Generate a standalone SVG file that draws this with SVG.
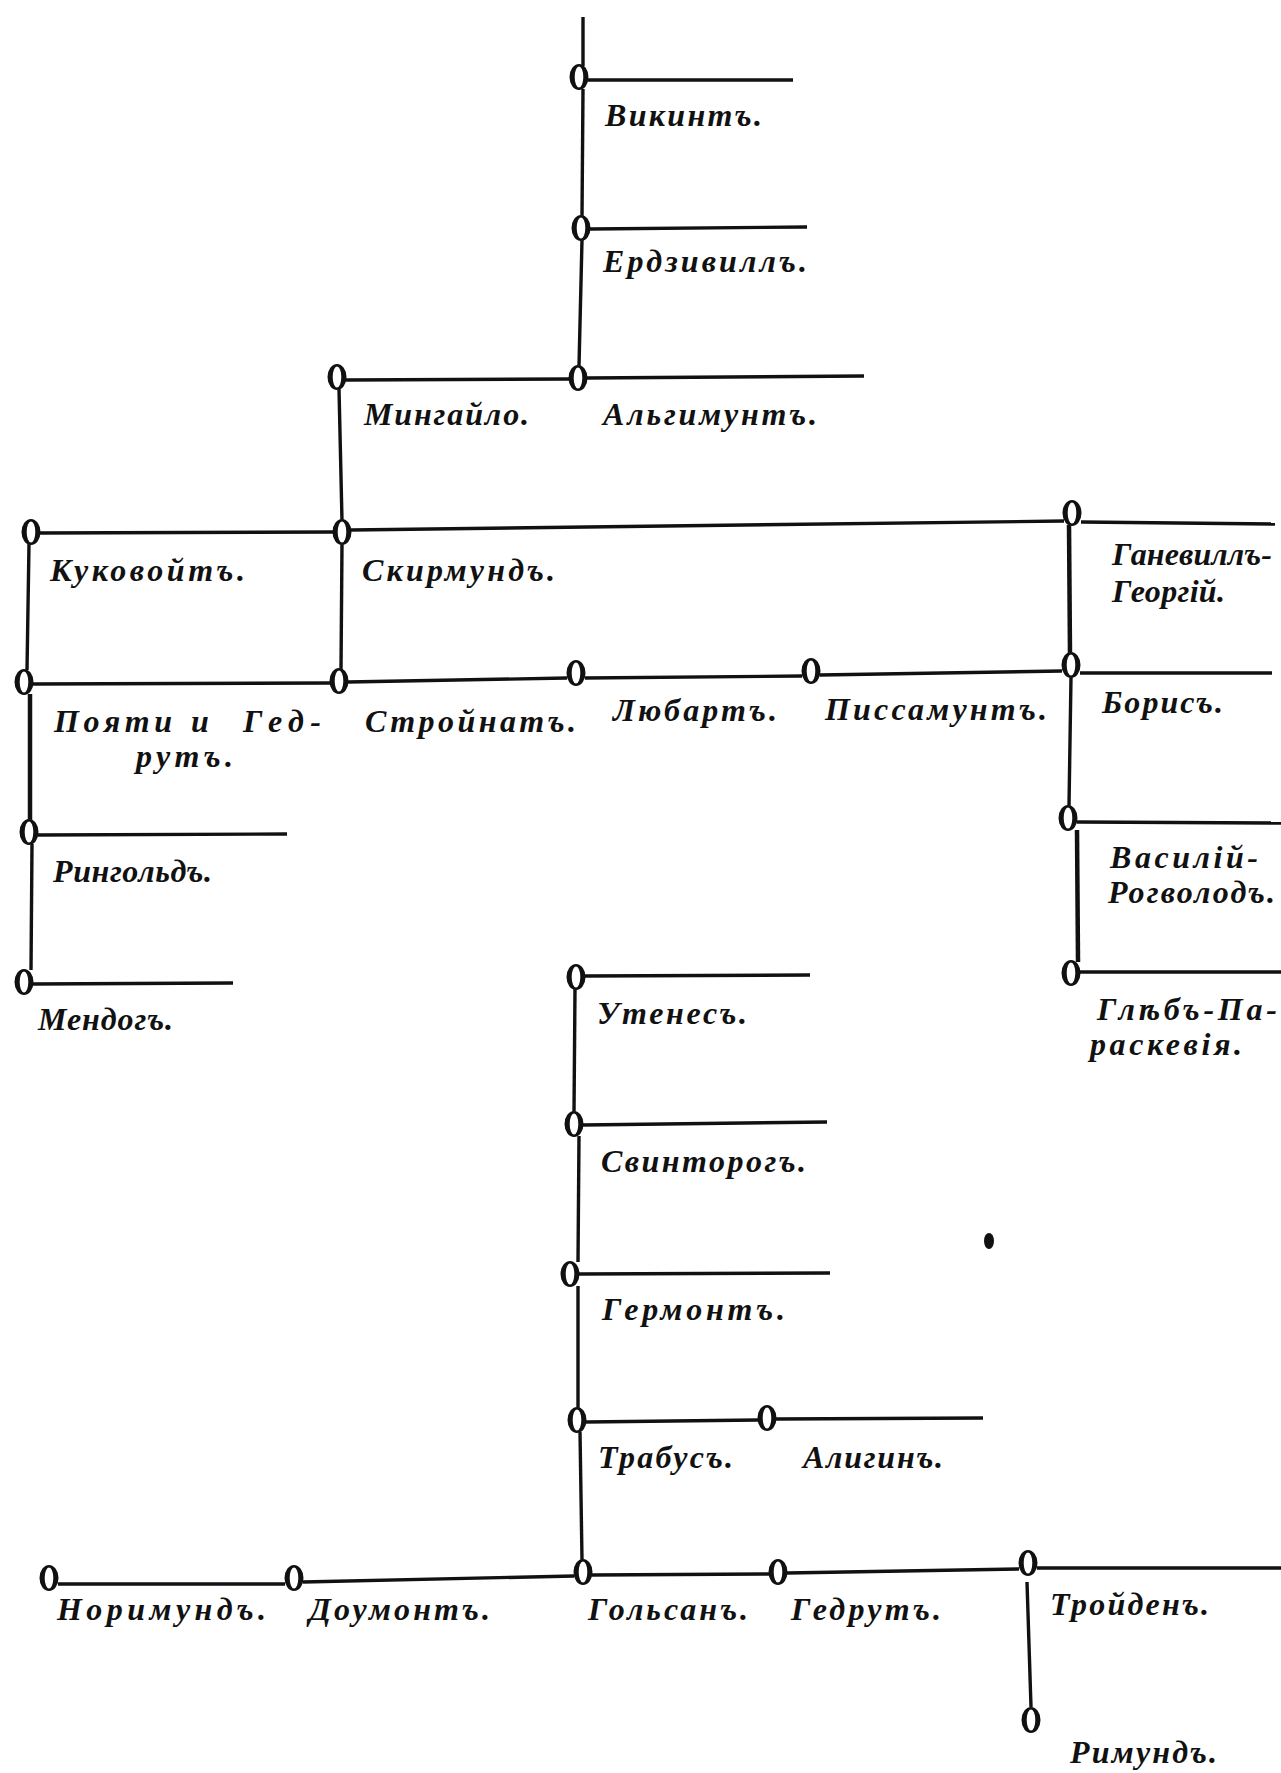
<svg xmlns="http://www.w3.org/2000/svg" xmlns:xlink="http://www.w3.org/1999/xlink" width="1281" height="1773" viewBox="0 0 1281 1773">
<style>
.bg{fill:#fff}
.ln{stroke:#111;stroke-width:3.4;fill:none;stroke-linecap:butt}
.thk{stroke-width:4.5}
.lb{font-family:"Liberation Serif","DejaVu Serif",serif;font-weight:bold;font-style:italic;font-size:32px;fill:#111}
</style>
<defs>
<g id="nd">
<ellipse rx="9" ry="12.5" fill="#fff"/>
<path d="M-9.5,0 a9.5,13 0 1,0 19,0 a9.5,13 0 1,0 -19,0 Z M-4.3,0 a4.3,10.5 0 1,0 8.6,0 a4.3,10.5 0 1,0 -8.6,0 Z" fill="#111" fill-rule="evenodd"/>
</g>
</defs>
<rect class="bg" x="0" y="0" width="1281" height="1773"/>

<g id="connectors">
<path class="ln" d="M583,17 L583,66"/>
<path class="ln" d="M588,80 L793,80"/>
<path class="ln" d="M583,89 L582,216"/>
<path class="ln" d="M590,229 L807,227"/>
<path class="ln" d="M582,240 L579,366"/>
<path class="ln" d="M587,378 L864,376"/>
<path class="ln" d="M346,380 L570,379"/>
<path class="ln" d="M339,389 L342,521"/>
<path class="ln" d="M40,533 L334,532"/>
<path class="ln" d="M351,530 L1064,521"/>
<path class="ln" d="M1081,522 L1275,524"/>
<path class="ln thk" d="M1069,525 L1070,655"/>
<path class="ln" d="M1080,673 L1272,673"/>
<path class="ln" d="M1071,677 L1069,806"/>
<path class="ln" d="M1077,822 L1281,823"/>
<path class="ln thk" d="M1077,830 L1078,962"/>
<path class="ln" d="M1080,972 L1281,972"/>
<path class="ln" d="M29,544 L27,670"/>
<path class="ln" d="M33,684 L330,683"/>
<path class="ln" d="M342,544 L341,669"/>
<path class="ln" d="M348,682 L567,678"/>
<path class="ln" d="M585,678 L802,676"/>
<path class="ln" d="M820,675 L1062,671"/>
<path class="ln thk" d="M30,694 L30,820"/>
<path class="ln" d="M38,835 L287,834"/>
<path class="ln" d="M32,844 L31,970"/>
<path class="ln" d="M33,984 L233,983"/>
<path class="ln" d="M585,976 L810,975"/>
<path class="ln" d="M575,989 L574,1112"/>
<path class="ln" d="M583,1125 L827,1122"/>
<path class="ln" d="M579,1136 L578,1262"/>
<path class="ln" d="M579,1274 L830,1273"/>
<path class="ln" d="M578,1286 L578,1408"/>
<path class="ln" d="M586,1422 L758,1420"/>
<path class="ln" d="M776,1419 L983,1418"/>
<path class="ln" d="M580,1432 L582,1560"/>
<path class="ln" d="M58,1584 L285,1584"/>
<path class="ln" d="M303,1582 L574,1576"/>
<path class="ln" d="M592,1575 L769,1574"/>
<path class="ln" d="M787,1573 L1019,1569"/>
<path class="ln" d="M1037,1568 L1281,1568"/>
<path class="ln" d="M1027,1582 L1031,1707"/>
</g>

<g id="n-vikint"><use xlink:href="#nd" x="579" y="77"/><text class="lb" x="605" y="126" textLength="157" lengthAdjust="spacing">Викинтъ.</text></g>
<g id="n-erdzivill"><use xlink:href="#nd" x="581" y="228"/><text class="lb" x="603" y="272" textLength="204" lengthAdjust="spacing">Ердзивиллъ.</text></g>
<g id="n-algimunt"><use xlink:href="#nd" x="578" y="378"/><text class="lb" x="603" y="425" textLength="214" lengthAdjust="spacing">Альгимунтъ.</text></g>
<g id="n-mingailo"><use xlink:href="#nd" x="337" y="377"/><text class="lb" x="364" y="425" textLength="165" lengthAdjust="spacing">Мингайло.</text></g>
<g id="n-kukovoit"><use xlink:href="#nd" x="31" y="532"/><text class="lb" x="50" y="581" textLength="195" lengthAdjust="spacing">Куковойтъ.</text></g>
<g id="n-skirmund"><use xlink:href="#nd" x="342" y="532"/><text class="lb" x="362" y="581" textLength="193" lengthAdjust="spacing">Скирмундъ.</text></g>
<g id="n-ganevill"><use xlink:href="#nd" x="1072" y="513"/><text class="lb" x="1112" y="565" textLength="160" lengthAdjust="spacing">Ганевиллъ-</text><text class="lb" x="1112" y="602" textLength="113" lengthAdjust="spacing">Георгій.</text></g>
<g id="n-poyati"><use xlink:href="#nd" x="24" y="682"/><text class="lb" y="732"><tspan x="54" textLength="118" lengthAdjust="spacing">Пояти</tspan> <tspan x="191">и</tspan> <tspan x="243" textLength="78" lengthAdjust="spacing">Гед-</tspan></text><text class="lb" x="136" y="767" textLength="97" lengthAdjust="spacing">рутъ.</text></g>
<g id="n-stroinat"><use xlink:href="#nd" x="339" y="681"/><text class="lb" x="365" y="732" textLength="211" lengthAdjust="spacing">Стройнатъ.</text></g>
<g id="n-lubart"><use xlink:href="#nd" x="576" y="673"/><text class="lb" x="613" y="721" textLength="164" lengthAdjust="spacing">Любартъ.</text></g>
<g id="n-pissamunt"><use xlink:href="#nd" x="811" y="671"/><text class="lb" x="825" y="720" textLength="222" lengthAdjust="spacing">Писсамунтъ.</text></g>
<g id="n-boris"><use xlink:href="#nd" x="1071" y="665"/><text class="lb" x="1102" y="713" textLength="121" lengthAdjust="spacing">Борисъ.</text></g>
<g id="n-ringold"><use xlink:href="#nd" x="29" y="832"/><text class="lb" x="53" y="882" textLength="159" lengthAdjust="spacing">Рингольдъ.</text></g>
<g id="n-mendog"><use xlink:href="#nd" x="24" y="982"/><text class="lb" x="38" y="1030" textLength="135" lengthAdjust="spacing">Мендогъ.</text></g>
<g id="n-vasily"><use xlink:href="#nd" x="1068" y="818"/><text class="lb" x="1110" y="868" textLength="148" lengthAdjust="spacing">Василій-</text><text class="lb" x="1108" y="903" textLength="167" lengthAdjust="spacing">Рогволодъ.</text></g>
<g id="n-gleb"><use xlink:href="#nd" x="1071" y="973"/><text class="lb" x="1097" y="1020" textLength="180" lengthAdjust="spacing">Глѣбъ-Па-</text><text class="lb" x="1090" y="1055" textLength="152" lengthAdjust="spacing">раскевія.</text></g>
<g id="n-utenes"><use xlink:href="#nd" x="576" y="977"/><text class="lb" x="597" y="1024" textLength="150" lengthAdjust="spacing">Утенесъ.</text></g>
<g id="n-svintorog"><use xlink:href="#nd" x="574" y="1124"/><text class="lb" x="601" y="1172" textLength="205" lengthAdjust="spacing">Свинторогъ.</text></g>
<g id="n-germont"><use xlink:href="#nd" x="570" y="1274"/><text class="lb" x="602" y="1320" textLength="183" lengthAdjust="spacing">Гермонтъ.</text></g>
<g id="n-trabus"><use xlink:href="#nd" x="577" y="1420"/><text class="lb" x="598" y="1468" textLength="135" lengthAdjust="spacing">Трабусъ.</text></g>
<g id="n-aligin"><use xlink:href="#nd" x="767" y="1418"/><text class="lb" x="803" y="1468" textLength="140" lengthAdjust="spacing">Алигинъ.</text></g>
<g id="n-norimund"><use xlink:href="#nd" x="49" y="1578"/><text class="lb" x="57" y="1620" textLength="209" lengthAdjust="spacing">Норимундъ.</text></g>
<g id="n-doumont"><use xlink:href="#nd" x="294" y="1578"/><text class="lb" x="309" y="1620" textLength="181" lengthAdjust="spacing">Доумонтъ.</text></g>
<g id="n-golsan"><use xlink:href="#nd" x="583" y="1572"/><text class="lb" x="588" y="1620" textLength="160" lengthAdjust="spacing">Гольсанъ.</text></g>
<g id="n-gedrut"><use xlink:href="#nd" x="778" y="1572"/><text class="lb" x="791" y="1620" textLength="150" lengthAdjust="spacing">Гедрутъ.</text></g>
<g id="n-troiden"><use xlink:href="#nd" x="1028" y="1563"/><text class="lb" x="1050" y="1615" textLength="159" lengthAdjust="spacing">Тройденъ.</text></g>
<g id="n-rimund"><use xlink:href="#nd" x="1031" y="1720"/><text class="lb" x="1070" y="1763" textLength="147" lengthAdjust="spacing">Римундъ.</text></g>

<ellipse cx="989" cy="1241" rx="5" ry="8" fill="#111"/>
</svg>
